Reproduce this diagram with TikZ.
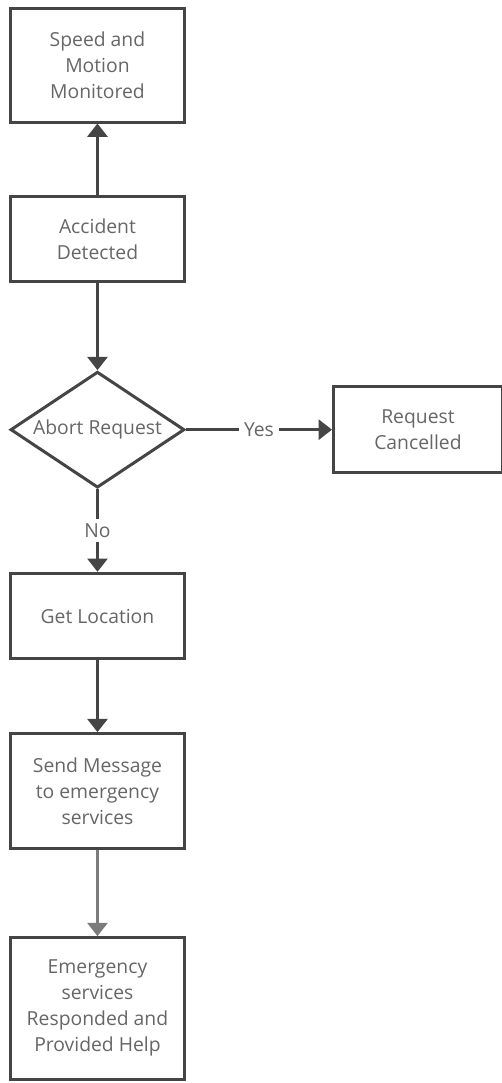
\documentclass[tikz,border=0pt]{standalone}
\usepackage{fontspec}
\setmainfont{Open Sans}
\usepackage{tikz}
\usetikzlibrary{shapes.geometric, arrows.meta, positioning}
\definecolor{edge}{HTML}{454545}
\definecolor{txt}{HTML}{666666}
\definecolor{faded}{HTML}{7C7C7C}
\tikzstyle{process} = [rectangle, minimum width=130pt, minimum height=64pt, align=center, draw=edge, line width=2.25pt, text=txt, font=\fontsize{14.5pt}{19.5pt}\selectfont]
\tikzstyle{decision} = [diamond, shape aspect=1.5, minimum width=130.5pt, minimum height=87pt, inner sep=0pt, align=center, draw=edge, line width=2.25pt, text=txt, font=\fontsize{14.5pt}{19.5pt}\selectfont]
\tikzstyle{arrow} = [line width=2.25pt, draw=edge, -{Triangle[length=10pt, width=15pt]}]
\tikzstyle{branch} = [fill=white, text=txt, inner sep=3.5pt, font=\fontsize{14.5pt}{19.5pt}\selectfont]

\begin{document}
\begin{tikzpicture}[node distance=55pt]
        \useasboundingbox (0,0) rectangle (375.75pt,-812.25pt);
        \node (monitor) [process, minimum height=85.5pt] at (73.1pt,-48.75pt) {Speed and\\Motion\\Monitored};
        \node (detect) [process, below=53.5pt of monitor] {Accident\\Detected};
        \node (abort) [decision, below=65.25pt of detect] {Abort Request};
        \node (cancel) [process, right=109.5pt of abort, minimum width=126.75pt, minimum height=64.5pt] {Request\\Cancelled};
        \node (locate) [process, below=62pt of abort] {Get Location};
        \node (send) [process, below=54pt of locate, minimum height=86.25pt] {Send Message\\to emergency\\services};
        \node (help) [process, below=64.5pt of send, minimum height=106pt] {Emergency\\services\\Responded and\\Provided Help};

        \draw[arrow] (detect) -- (monitor);
        \draw[arrow] (detect) -- (abort);
        \draw[arrow] (abort) -- node[branch, midway] {Yes} (cancel);
        \draw[arrow] (abort) -- node[branch, midway] {No} (locate);
        \draw[arrow] (locate) -- (send);
        \draw[arrow, draw=faded] (send) -- (help);
    \end{tikzpicture}
\end{document}
